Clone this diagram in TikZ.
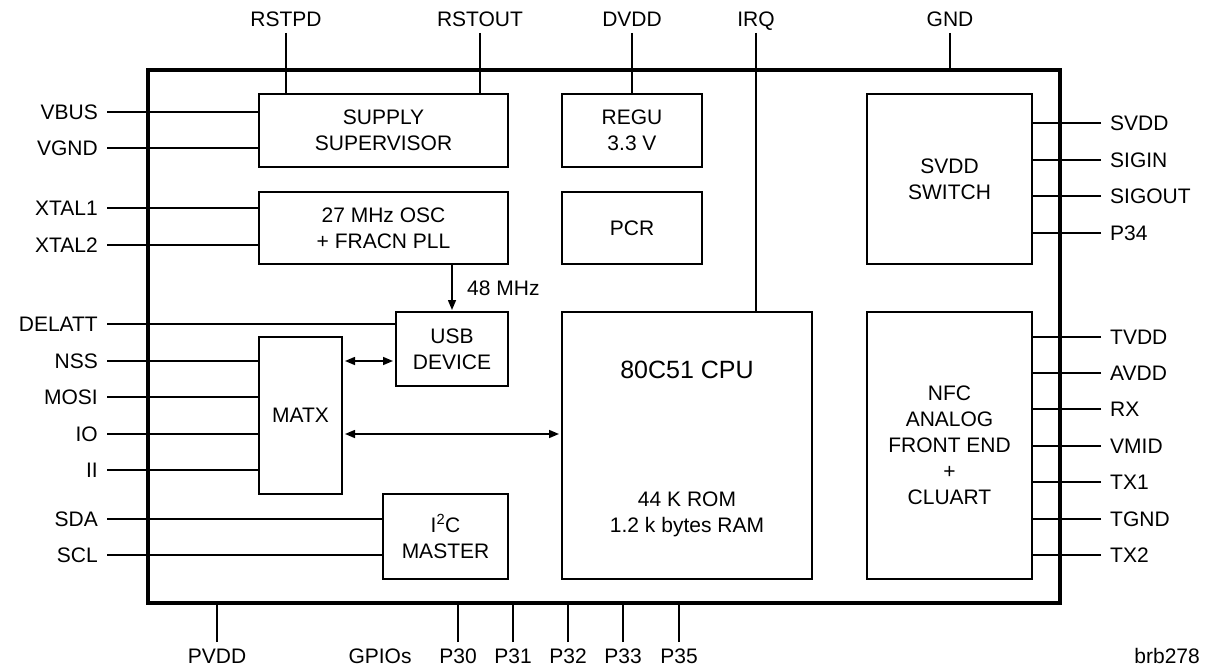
\documentclass[tikz,border=0pt]{standalone}
\usepackage{fontspec}
\setmainfont{Liberation Sans}
\usetikzlibrary{arrows.meta, positioning}

\begin{document}
\begin{tikzpicture}[
    x=1pt, y=-1pt,
    every node/.style={font=\fontsize{21}{26}\selectfont},
    >={Triangle[length=10pt, width=8pt]},
    chip/.style={draw, line width=3.2pt, inner sep=0pt, outer sep=0pt},
    block/.style={draw, line width=2.7pt, inner sep=0pt, outer sep=0pt, align=center},
    pin/.style={inner xsep=9pt, inner ysep=6pt, text height=15pt, text depth=0pt},
    wire/.style={line width=1.5pt},
]
\useasboundingbox (0,0) rectangle (1206,669);

% --- Chip outline ---
\node[chip, minimum width=912pt, minimum height=533pt] (chip) at (604,336.5) {};

% --- Blocks ---
\node[block, minimum width=249pt, minimum height=73pt] (sup) at (383.5,130.5) {SUPPLY\\SUPERVISOR};
\node[block, minimum width=249pt, minimum height=72pt] (osc) at (383.5,228) {27 MHz OSC\\+ FRACN PLL};
\node[block, minimum width=140pt, minimum height=73pt] (regu) at (632,130.5) {REGU\\3.3 V};
\node[block, minimum width=140pt, minimum height=72pt] (pcr) at (632,228) {PCR};
\node[block, minimum width=165pt, minimum height=170pt] (svddsw) at (949.5,179) {SVDD\\SWITCH};
\node[block, minimum width=112pt, minimum height=74pt] (usb) at (452,349) {USB\\DEVICE};
\node[block, minimum width=83pt, minimum height=157pt] (matx) at (300.5,415.5) {MATX};
\node[block, minimum width=125pt, minimum height=85pt] (i2c) at (445.5,536.5) {I\textsuperscript{2}C\\MASTER};
\node[block, minimum width=250pt, minimum height=267pt] (cpu) at (687,445.5) {};
\node[block, minimum width=165pt, minimum height=267pt] (nfc) at (949.5,445.5) {NFC\\ANALOG\\FRONT END\\+\\CLUART};

% CPU contents
\node[font=\fontsize{25}{29}\selectfont] (cputitle) at (687,370) {80C51 CPU};
\node[align=center] (cpumem) at (687,514) {44 K ROM\\1.2 k bytes RAM};

% --- Top pins ---
\node[pin, anchor=south] (rstpd) at (286,33) {RSTPD};
\node[pin, anchor=south] (rstout) at (480,33) {RSTOUT};
\node[pin, anchor=south] (dvdd) at (632,33) {DVDD};
\node[pin, anchor=south] (irq) at (756,33) {IRQ};
\node[pin, anchor=south] (gnd) at (950,33) {GND};

\draw[wire] (rstpd.south) -- (rstpd.south |- sup.north);
\draw[wire] (rstout.south) -- (rstout.south |- sup.north);
\draw[wire] (dvdd.south) -- (regu.north);
\draw[wire] (irq.south) -- (irq.south |- cpu.north);
\draw[wire] (gnd.south) -- (gnd.south |- chip.north);

% --- Left pins ---
\node[pin, anchor=east] (vbus) at (107,112) {VBUS};
\node[pin, anchor=east] (vgnd) at (107,148) {VGND};
\node[pin, anchor=east] (xtal1) at (107,208) {XTAL1};
\node[pin, anchor=east] (xtal2) at (107,245) {XTAL2};
\node[pin, anchor=east] (delatt) at (107,324) {DELATT};
\node[pin, anchor=east] (nss) at (107,361) {NSS};
\node[pin, anchor=east] (mosi) at (107,397) {MOSI};
\node[pin, anchor=east] (io) at (107,434) {IO};
\node[pin, anchor=east] (ii) at (107,470) {II};
\node[pin, anchor=east] (sda) at (107,519) {SDA};
\node[pin, anchor=east] (scl) at (107,555) {SCL};

\draw[wire] (vbus.east) -- (vbus.east -| sup.west);
\draw[wire] (vgnd.east) -- (vgnd.east -| sup.west);
\draw[wire] (xtal1.east) -- (xtal1.east -| osc.west);
\draw[wire] (xtal2.east) -- (xtal2.east -| osc.west);
\draw[wire] (delatt.east) -- (delatt.east -| usb.west);
\draw[wire] (nss.east) -- (nss.east -| matx.west);
\draw[wire] (mosi.east) -- (mosi.east -| matx.west);
\draw[wire] (io.east) -- (io.east -| matx.west);
\draw[wire] (ii.east) -- (ii.east -| matx.west);
\draw[wire] (sda.east) -- (sda.east -| i2c.west);
\draw[wire] (scl.east) -- (scl.east -| i2c.west);

% --- Right pins ---
\node[pin, anchor=west] (svdd) at (1101,123) {SVDD};
\node[pin, anchor=west] (sigin) at (1101,160) {SIGIN};
\node[pin, anchor=west] (sigout) at (1101,196) {SIGOUT};
\node[pin, anchor=west] (p34) at (1101,233) {P34};
\node[pin, anchor=west] (tvdd) at (1101,337) {TVDD};
\node[pin, anchor=west] (avdd) at (1101,373) {AVDD};
\node[pin, anchor=west] (rx) at (1101,409) {RX};
\node[pin, anchor=west] (vmid) at (1101,446) {VMID};
\node[pin, anchor=west] (tx1) at (1101,482) {TX1};
\node[pin, anchor=west] (tgnd) at (1101,519) {TGND};
\node[pin, anchor=west] (tx2) at (1101,555) {TX2};

\draw[wire] (svdd.west) -- (svdd.west -| svddsw.east);
\draw[wire] (sigin.west) -- (sigin.west -| svddsw.east);
\draw[wire] (sigout.west) -- (sigout.west -| svddsw.east);
\draw[wire] (p34.west) -- (p34.west -| svddsw.east);
\draw[wire] (tvdd.west) -- (tvdd.west -| nfc.east);
\draw[wire] (avdd.west) -- (avdd.west -| nfc.east);
\draw[wire] (rx.west) -- (rx.west -| nfc.east);
\draw[wire] (vmid.west) -- (vmid.west -| nfc.east);
\draw[wire] (tx1.west) -- (tx1.west -| nfc.east);
\draw[wire] (tgnd.west) -- (tgnd.west -| nfc.east);
\draw[wire] (tx2.west) -- (tx2.west -| nfc.east);

% --- Bottom pins ---
\node[pin, anchor=north] (pvdd) at (217,642) {PVDD};
\node[pin, anchor=north] (gpios) at (380,642) {GPIOs};
\node[pin, anchor=north] (p30) at (458,642) {P30};
\node[pin, anchor=north] (p31) at (513,642) {P31};
\node[pin, anchor=north] (p32) at (568,642) {P32};
\node[pin, anchor=north] (p33) at (623,642) {P33};
\node[pin, anchor=north] (p35) at (679,642) {P35};

\draw[wire] (pvdd.north) -- (pvdd.north |- chip.south);
\draw[wire] (p30.north) -- (p30.north |- chip.south);
\draw[wire] (p31.north) -- (p31.north |- chip.south);
\draw[wire] (p32.north) -- (p32.north |- chip.south);
\draw[wire] (p33.north) -- (p33.north |- chip.south);
\draw[wire] (p35.north) -- (p35.north |- chip.south);

% --- Internal connections ---
\draw[wire, ->, shorten >=2pt] (osc.south -| usb.north) -- (usb.north);
\node[pin, anchor=west] (clk) at (458,288) {48 MHz};
\draw[wire, <->, shorten <=3pt, shorten >=3pt] (matx.east |- nss.east) -- (usb.west |- nss.east);
\draw[wire, <->, shorten <=3pt, shorten >=3pt] (matx.east |- io.east) -- (cpu.west |- io.east);

% drawing number
\node[pin, anchor=north east, inner xsep=0pt] (drw) at (1200,642) {brb278};

\end{tikzpicture}
\end{document}
